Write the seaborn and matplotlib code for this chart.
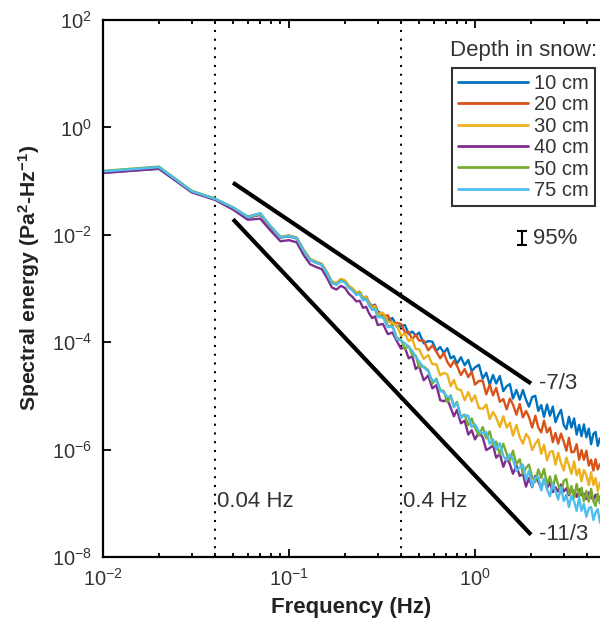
import numpy as np
import pandas as pd
import seaborn as sns
import matplotlib
matplotlib.use("Agg")
import matplotlib.pyplot as plt
from matplotlib.ticker import LogLocator, NullLocator, NullFormatter

# frequency grid (Hz)
freq = [0.01, 0.02, 0.03, 0.04, 0.05, 0.06, 0.07, 0.08, 0.09, 0.10,
        0.11, 0.12, 0.13, 0.14, 0.15, 0.16, 0.17, 0.18, 0.19, 0.20,
        0.21, 0.22, 0.23, 0.24, 0.25, 0.26, 0.27, 0.28, 0.29, 0.30,
        0.32, 0.34, 0.36, 0.38, 0.40, 0.42, 0.44, 0.46, 0.48, 0.50,
        0.53, 0.56, 0.59, 0.62, 0.65, 0.68, 0.71, 0.74, 0.77, 0.80,
        0.84, 0.88, 0.92, 0.96, 1.00, 1.05, 1.10, 1.15, 1.20, 1.25,
        1.30, 1.36, 1.42, 1.48, 1.54, 1.60, 1.67, 1.74, 1.81, 1.88,
        1.95, 2.03, 2.11, 2.19, 2.27, 2.35, 2.44, 2.53, 2.62, 2.71,
        2.80, 2.90, 3.00, 3.10, 3.20, 3.30, 3.41, 3.52, 3.63, 3.74,
        3.85, 3.97, 4.09, 4.21, 4.33, 4.45, 4.57, 4.70]

depths = ["10 cm", "20 cm", "30 cm", "40 cm", "50 cm", "75 cm"]
colors = ["#0072BD", "#D95319", "#EDB120", "#7E2F8E", "#77AC30", "#4DBEEE"]

# log10 of spectral energy (Pa^2/Hz)
log_e_10cm = [-0.84, -0.77, -1.20, -1.33, -1.50, -1.68, -1.63, -1.87, -2.05, -2.03,
              -2.07, -2.30, -2.47, -2.52, -2.56, -2.71, -2.89, -2.92, -2.84, -2.87,
              -2.97, -3.02, -3.09, -3.06, -3.18, -3.15, -3.27, -3.33, -3.30, -3.43,
              -3.47, -3.59, -3.55, -3.71, -3.70, -3.68, -3.85, -3.80, -3.88, -3.82,
              -4.02, -3.98, -3.99, -4.16, -4.09, -4.20, -4.11, -4.30, -4.26, -4.40,
              -4.28, -4.43, -4.33, -4.54, -4.47, -4.42, -4.68, -4.57, -4.79, -4.61,
              -4.77, -4.63, -4.91, -4.82, -4.78, -5.05, -4.89, -5.07, -4.89, -5.07,
              -5.20, -5.02, -5.00, -5.28, -5.17, -5.39, -5.16, -5.37, -5.20, -5.49,
              -5.36, -5.26, -5.54, -5.62, -5.39, -5.59, -5.42, -5.72, -5.54, -5.75,
              -5.53, -5.77, -5.61, -5.90, -5.71, -5.67, -5.93, -5.79]
log_e_20cm = [-0.83, -0.76, -1.19, -1.33, -1.50, -1.67, -1.62, -1.86, -2.05, -2.02,
              -2.06, -2.29, -2.46, -2.51, -2.55, -2.70, -2.88, -2.91, -2.83, -2.86,
              -2.96, -3.01, -3.08, -3.07, -3.17, -3.16, -3.27, -3.34, -3.31, -3.44,
              -3.51, -3.50, -3.67, -3.64, -3.66, -3.82, -3.81, -3.95, -3.86, -3.97,
              -3.97, -4.15, -4.06, -4.18, -4.30, -4.20, -4.37, -4.46, -4.35, -4.44,
              -4.61, -4.50, -4.65, -4.55, -4.79, -4.72, -4.72, -4.97, -4.79, -4.99,
              -4.85, -5.11, -5.06, -5.25, -5.05, -5.16, -5.35, -5.15, -5.40, -5.28,
              -5.39, -5.59, -5.37, -5.59, -5.68, -5.46, -5.68, -5.59, -5.86, -5.69,
              -5.89, -5.70, -5.85, -6.02, -5.78, -6.05, -6.04, -5.90, -6.19, -6.01,
              -6.19, -6.02, -6.30, -6.19, -6.39, -6.18, -6.37, -6.27]
log_e_30cm = [-0.83, -0.75, -1.19, -1.33, -1.49, -1.67, -1.61, -1.85, -2.04, -2.01,
              -2.05, -2.28, -2.45, -2.50, -2.54, -2.69, -2.87, -2.90, -2.82, -2.85,
              -2.95, -3.00, -3.07, -3.06, -3.17, -3.16, -3.28, -3.36, -3.33, -3.48,
              -3.45, -3.62, -3.64, -3.68, -3.88, -3.84, -3.98, -3.94, -4.13, -4.13,
              -4.31, -4.24, -4.41, -4.41, -4.62, -4.57, -4.60, -4.82, -4.70, -4.87,
              -4.89, -5.08, -4.93, -5.10, -4.99, -5.23, -5.24, -5.16, -5.43, -5.30,
              -5.40, -5.58, -5.38, -5.59, -5.50, -5.74, -5.54, -5.77, -5.89, -5.71,
              -5.78, -6.01, -5.89, -5.81, -6.08, -5.91, -6.20, -6.04, -6.03, -6.28,
              -6.06, -6.25, -6.39, -6.15, -6.30, -6.45, -6.22, -6.48, -6.36, -6.59,
              -6.38, -6.48, -6.66, -6.42, -6.66, -6.53, -6.77, -6.61]
log_e_40cm = [-0.85, -0.77, -1.21, -1.35, -1.53, -1.72, -1.70, -1.93, -2.12, -2.10,
              -2.14, -2.38, -2.55, -2.60, -2.64, -2.80, -2.98, -3.02, -2.95, -2.99,
              -3.10, -3.16, -3.24, -3.23, -3.36, -3.34, -3.47, -3.55, -3.52, -3.68,
              -3.66, -3.85, -3.82, -3.98, -4.12, -4.10, -4.30, -4.26, -4.50, -4.44,
              -4.71, -4.62, -4.86, -4.80, -5.08, -5.10, -5.06, -5.22, -5.38, -5.26,
              -5.51, -5.46, -5.72, -5.64, -5.81, -5.68, -5.77, -6.01, -5.97, -5.92,
              -6.15, -6.08, -6.32, -6.16, -6.27, -6.45, -6.30, -6.49, -6.45, -6.69,
              -6.53, -6.70, -6.49, -6.60, -6.72, -6.55, -6.71, -6.61, -6.79, -6.70,
              -6.78, -6.65, -6.78, -6.72, -6.85, -6.74, -6.78, -6.88, -6.74, -6.85,
              -6.82, -6.92, -6.80, -6.88, -6.94, -6.84, -6.94, -6.88]
log_e_50cm = [-0.81, -0.73, -1.18, -1.33, -1.49, -1.66, -1.60, -1.85, -2.04, -2.02,
              -2.06, -2.29, -2.46, -2.51, -2.55, -2.71, -2.89, -2.92, -2.85, -2.88,
              -2.98, -3.03, -3.11, -3.09, -3.21, -3.19, -3.31, -3.39, -3.37, -3.52,
              -3.52, -3.70, -3.69, -3.92, -3.95, -4.13, -4.07, -4.24, -4.25, -4.46,
              -4.45, -4.52, -4.77, -4.68, -4.89, -4.91, -5.12, -4.99, -5.19, -5.11,
              -5.39, -5.35, -5.55, -5.42, -5.59, -5.74, -5.58, -5.79, -5.66, -5.92,
              -5.85, -6.09, -5.89, -6.08, -6.21, -6.02, -6.27, -6.18, -6.45, -6.34,
              -6.28, -6.51, -6.60, -6.37, -6.53, -6.36, -6.65, -6.50, -6.72, -6.48,
              -6.65, -6.81, -6.58, -6.55, -6.83, -6.68, -6.90, -6.64, -6.87, -6.71,
              -6.96, -6.77, -6.97, -6.73, -6.96, -7.05, -6.82, -7.00]
log_e_75cm = [-0.82, -0.74, -1.19, -1.33, -1.49, -1.67, -1.60, -1.85, -2.05, -2.02,
              -2.06, -2.30, -2.47, -2.52, -2.56, -2.72, -2.90, -2.93, -2.86, -2.89,
              -2.99, -3.04, -3.12, -3.10, -3.22, -3.20, -3.32, -3.40, -3.38, -3.53,
              -3.54, -3.72, -3.71, -3.94, -3.97, -4.02, -4.09, -4.16, -4.27, -4.36,
              -4.47, -4.54, -4.72, -4.70, -4.91, -4.93, -5.02, -5.01, -5.21, -5.13,
              -5.41, -5.36, -5.37, -5.58, -5.53, -5.66, -5.70, -5.67, -5.89, -5.81,
              -6.00, -5.88, -6.12, -6.20, -6.09, -6.18, -6.40, -6.33, -6.28, -6.56,
              -6.39, -6.69, -6.52, -6.51, -6.76, -6.54, -6.74, -6.87, -6.63, -6.78,
              -6.93, -6.70, -6.96, -6.84, -7.07, -6.86, -6.96, -7.14, -6.90, -7.14,
              -7.01, -7.25, -7.09, -7.07, -7.31, -7.17, -7.11, -7.36]

# reference power laws: start/end frequency, start energy, exponent
slope_f = [0.05, 2.0]
slope_start = [10 ** -1.03, 10 ** -1.71]
slope_exp = [-7 / 3, -11 / 3]
slope_labels = ["-7/3", "-11/3"]

# band markers and 95% confidence bar
band_f = [0.04, 0.4]
band_labels = ["0.04 Hz", "0.4 Hz"]
band_label_y = 10 ** -6.97
ci_f = 1.79
ci_center = 10 ** -2.06
ci_factor = 1.33

series = [log_e_10cm, log_e_20cm, log_e_30cm, log_e_40cm, log_e_50cm, log_e_75cm]
rows = []
for depth, vals in zip(depths, series):
    for f, v in zip(freq, vals):
        rows.append((f, depth, 10 ** v))
df = pd.DataFrame(rows, columns=["Frequency", "Depth", "Energy"])

sns.set_style("ticks")
plt.rcParams["font.family"] = ["Liberation Sans", "DejaVu Sans"]
plt.rcParams["mathtext.default"] = "regular"

fig = plt.figure(figsize=(6, 6.26), dpi=100)
ax = fig.add_axes([103 / 600, 69 / 626, 497 / 600, 537 / 626])
ax.set_xscale("log")
ax.set_yscale("log")

sns.lineplot(data=df, x="Frequency", y="Energy", hue="Depth", hue_order=depths,
             palette=colors, estimator=None, sort=False, lw=1.7, ax=ax)

txt = "#333333"

# dotted band limits
for f, lab in zip(band_f, band_labels):
    ax.axvline(f, color="black", ls=(0, (1, 3.2)), lw=1.5, zorder=1)
    ax.text(f * 1.02, band_label_y, lab, fontsize=16, color=txt, va="center", ha="left")

# slope lines
for s0, ex, lab in zip(slope_start, slope_exp, slope_labels):
    fx = np.array(slope_f)
    fy = s0 * (fx / fx[0]) ** ex
    ax.plot(fx, fy, color="black", lw=3, solid_capstyle="butt", zorder=5)
    ax.text(fx[-1] * 1.11, fy[-1], lab, fontsize=16, color=txt, va="center", ha="left")

# 95% confidence bar
ax.errorbar([ci_f], [ci_center],
            yerr=[[ci_center - ci_center / ci_factor], [ci_center * ci_factor - ci_center]],
            fmt="none", ecolor="black", elinewidth=1.5, capsize=3.5, capthick=1.5)
ax.text(ci_f * 1.145, ci_center, "95%", fontsize=16, color=txt, va="center", ha="left")

ax.set_xlim(0.01, 4.7)
ax.set_ylim(1e-8, 1e2)
ax.set_yticks([1e-8, 1e-6, 1e-4, 1e-2, 1e0, 1e2])
ax.yaxis.set_minor_locator(NullLocator())
ax.xaxis.set_major_locator(LogLocator(base=10, numticks=10))
ax.xaxis.set_minor_locator(LogLocator(base=10, subs=np.arange(2, 10), numticks=20))
ax.xaxis.set_minor_formatter(NullFormatter())
ax.tick_params(which="both", direction="in", top=True, right=False, labelsize=14.5,
               colors="black", labelcolor=txt, width=1.3)
ax.tick_params(which="major", length=6, pad=8)
ax.tick_params(which="minor", length=3)
for side in ["left", "bottom", "top"]:
    ax.spines[side].set_linewidth(1.6)
    ax.spines[side].set_color("black")
ax.spines["right"].set_visible(False)

ax.set_xlabel("Frequency (Hz)", fontsize=16, fontweight="bold", color="#222222", labelpad=5)
ax.set_ylabel("Spectral energy (Pa$^{2}$-Hz$^{-1}$)", fontsize=15.3, fontweight="bold",
              color="#222222")
ax.yaxis.set_label_coords(-0.123, 0.52)

handles, labels = ax.get_legend_handles_labels()
for h in handles:
    h.set_linewidth(2)
leg = ax.legend(handles, labels, loc="upper right", bbox_to_anchor=(0.990, 0.911),
                fontsize=14.5, frameon=True, fancybox=False, edgecolor="black",
                handlelength=3.5, handletextpad=0.3, labelspacing=0.12, borderpad=0.3,
                borderaxespad=0)
leg.get_frame().set_linewidth(1.5)
for t in leg.get_texts():
    t.set_color(txt)
ax.text(0.994, 0.944, "Depth in snow:", transform=ax.transAxes, fontsize=16,
        color=txt, ha="right", va="center")

fig.savefig("out.png", dpi=100)
